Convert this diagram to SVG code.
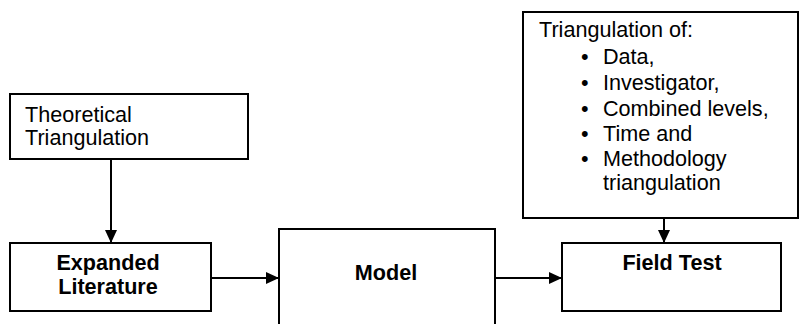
<svg xmlns="http://www.w3.org/2000/svg" width="799" height="324" viewBox="0 0 799 324">
  <style>
    .box { fill: #ffffff; stroke: #000000; stroke-width: 2; }
    .txt { font-family: "Liberation Sans", Arial, sans-serif; font-size: 21.6px; fill: #000000; }
    .bold { font-weight: bold; text-anchor: middle; }
    .link { fill: none; stroke: #000000; stroke-width: 2; }
  </style>
  <defs>
    <marker id="arrow" viewBox="0 0 13 12" refX="13" refY="6" markerWidth="13" markerHeight="12" markerUnits="userSpaceOnUse" orient="auto">
      <path d="M0,0 L13,6 L0,12 Z" fill="#000000"/>
    </marker>
  </defs>

  <rect width="799" height="324" fill="#ffffff"/>

  <!-- connectors -->
  <g id="connectors">
    <line class="link" x1="111" y1="159" x2="111" y2="243" marker-end="url(#arrow)"/>
    <line class="link" x1="211" y1="278" x2="279" y2="278" marker-end="url(#arrow)"/>
    <line class="link" x1="495" y1="278" x2="562" y2="278" marker-end="url(#arrow)"/>
    <line class="link" x1="664" y1="218" x2="664" y2="243" marker-end="url(#arrow)"/>
  </g>

  <g id="theoretical">
    <rect class="box" x="10" y="94" width="238" height="65"/>
    <text class="txt" x="25" y="122">Theoretical</text>
    <text class="txt" x="25" y="145">Triangulation</text>
  </g>

  <g id="expanded-literature">
    <rect class="box" x="10" y="243" width="201" height="68"/>
    <text class="txt bold" x="108" y="270">Expanded</text>
    <text class="txt bold" x="108" y="294">Literature</text>
  </g>

  <g id="model">
    <rect class="box" x="279" y="229" width="216" height="110"/>
    <text class="txt bold" x="386" y="280">Model</text>
  </g>

  <g id="field-test">
    <rect class="box" x="562" y="243" width="219" height="68"/>
    <text class="txt bold" x="672" y="270">Field Test</text>
  </g>

  <g id="triangulation">
    <rect class="box" x="523" y="12" width="275" height="206"/>
    <text class="txt" x="539" y="37">Triangulation of:</text>
    <g class="txt">
      <text x="581" y="64">•</text><text x="603" y="64">Data,</text>
      <text x="581" y="90">•</text><text x="603" y="90">Investigator,</text>
      <text x="581" y="116">•</text><text x="603" y="116">Combined levels,</text>
      <text x="581" y="141">•</text><text x="603" y="141">Time and</text>
      <text x="581" y="166">•</text><text x="603" y="166">Methodology</text>
      <text x="603" y="190">triangulation</text>
    </g>
  </g>
</svg>
